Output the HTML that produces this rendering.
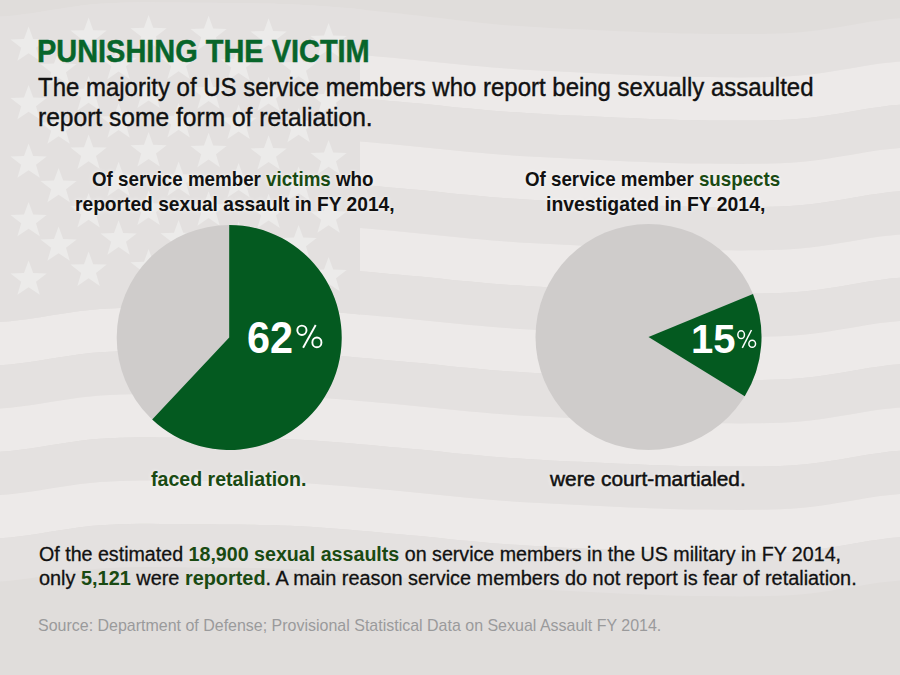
<!DOCTYPE html><html><head><meta charset="utf-8"><style>
html,body{margin:0;padding:0;width:900px;height:675px;overflow:hidden;}
body{position:relative;font-family:"Liberation Sans",sans-serif;}
.t{position:absolute;white-space:nowrap;line-height:1;transform-origin:0 0;}
.g{color:#194a12;font-weight:bold;-webkit-text-stroke-width:0;}
.sh{text-shadow:0 0 4px rgba(255,255,255,0.6), 0 0 8px rgba(255,255,255,0.4);}
</style></head><body>
<svg width="900" height="675" style="position:absolute;left:0;top:0"><rect width="900" height="675" fill="#e0dddb"/><path d="M-10.0,16.8 L0.0,16.8 L10.0,15.9 L20.0,14.8 L30.0,13.4 L40.0,11.9 L50.0,10.3 L60.0,8.7 L70.0,7.2 L80.0,5.8 L90.0,4.6 L100.0,3.8 L110.0,3.2 L120.0,2.7 L130.0,2.5 L140.0,2.3 L150.0,2.3 L160.0,2.4 L170.0,2.5 L180.0,2.6 L190.0,2.7 L200.0,2.8 L210.0,2.8 L220.0,2.9 L230.0,2.9 L240.0,3.0 L250.0,3.2 L260.0,3.4 L270.0,3.6 L280.0,3.9 L290.0,4.3 L300.0,4.8 L310.0,5.3 L320.0,5.9 L330.0,6.7 L340.0,7.4 L350.0,8.3 L360.0,9.3 L370.0,10.4 L380.0,11.5 L390.0,12.5 L400.0,13.6 L410.0,14.7 L420.0,15.8 L430.0,16.9 L440.0,18.1 L450.0,19.3 L460.0,20.5 L470.0,21.6 L480.0,22.7 L490.0,23.8 L500.0,24.8 L510.0,25.5 L520.0,26.1 L530.0,26.8 L540.0,27.3 L550.0,27.9 L560.0,28.4 L570.0,28.9 L580.0,29.3 L590.0,29.8 L600.0,30.2 L610.0,30.7 L620.0,31.2 L630.0,31.6 L640.0,32.0 L650.0,32.4 L660.0,32.8 L670.0,33.1 L680.0,33.4 L690.0,33.6 L700.0,33.8 L710.0,33.9 L720.0,34.0 L730.0,34.1 L740.0,34.1 L750.0,34.1 L760.0,34.0 L770.0,33.8 L780.0,33.4 L790.0,32.9 L800.0,32.2 L810.0,31.3 L820.0,30.0 L830.0,28.5 L840.0,26.9 L850.0,25.2 L860.0,23.4 L870.0,21.8 L880.0,20.4 L890.0,19.1 L900.0,18.2 L910.0,18.2 L910.0,61.5 L900.0,61.5 L890.0,62.4 L880.0,63.6 L870.0,65.1 L860.0,66.7 L850.0,68.4 L840.0,70.1 L830.0,71.8 L820.0,73.3 L810.0,74.5 L800.0,75.5 L790.0,76.2 L780.0,76.7 L770.0,77.0 L760.0,77.2 L750.0,77.3 L740.0,77.4 L730.0,77.3 L720.0,77.2 L710.0,77.1 L700.0,77.0 L690.0,76.9 L680.0,76.7 L670.0,76.4 L660.0,76.1 L650.0,75.7 L640.0,75.3 L630.0,74.9 L620.0,74.4 L610.0,74.0 L600.0,73.5 L590.0,73.0 L580.0,72.6 L570.0,72.1 L560.0,71.6 L550.0,71.1 L540.0,70.6 L530.0,70.0 L520.0,69.4 L510.0,68.7 L500.0,68.0 L490.0,67.2 L480.0,66.3 L470.0,65.4 L460.0,64.4 L450.0,63.4 L440.0,62.4 L430.0,61.4 L420.0,60.4 L410.0,59.4 L400.0,58.5 L390.0,57.6 L380.0,56.7 L370.0,55.8 L360.0,54.9 L350.0,54.0 L340.0,53.2 L330.0,52.4 L320.0,51.7 L310.0,51.1 L300.0,50.5 L290.0,50.0 L280.0,49.7 L270.0,49.4 L260.0,49.1 L250.0,48.9 L240.0,48.8 L230.0,48.7 L220.0,48.6 L210.0,48.6 L200.0,48.5 L190.0,48.4 L180.0,48.3 L170.0,48.2 L160.0,48.1 L150.0,48.1 L140.0,48.1 L130.0,48.2 L120.0,48.5 L110.0,48.9 L100.0,49.5 L90.0,50.4 L80.0,51.5 L70.0,52.9 L60.0,54.5 L50.0,56.1 L40.0,57.7 L30.0,59.2 L20.0,60.5 L10.0,61.7 L0.0,62.5 L-10.0,62.5Z" fill="#e4e1e0"/><path d="M-10.0,62.5 L0.0,62.5 L10.0,61.7 L20.0,60.5 L30.0,59.2 L40.0,57.7 L50.0,56.1 L60.0,54.5 L70.0,52.9 L80.0,51.5 L90.0,50.4 L100.0,49.5 L110.0,48.9 L120.0,48.5 L130.0,48.2 L140.0,48.1 L150.0,48.1 L160.0,48.1 L170.0,48.2 L180.0,48.3 L190.0,48.4 L200.0,48.5 L210.0,48.6 L220.0,48.6 L230.0,48.7 L240.0,48.8 L250.0,48.9 L260.0,49.1 L270.0,49.4 L280.0,49.7 L290.0,50.0 L300.0,50.5 L310.0,51.1 L320.0,51.7 L330.0,52.4 L340.0,53.2 L350.0,54.0 L360.0,54.9 L370.0,55.8 L380.0,56.7 L390.0,57.6 L400.0,58.5 L410.0,59.4 L420.0,60.4 L430.0,61.4 L440.0,62.4 L450.0,63.4 L460.0,64.4 L470.0,65.4 L480.0,66.3 L490.0,67.2 L500.0,68.0 L510.0,68.7 L520.0,69.4 L530.0,70.0 L540.0,70.6 L550.0,71.1 L560.0,71.6 L570.0,72.1 L580.0,72.6 L590.0,73.0 L600.0,73.5 L610.0,74.0 L620.0,74.4 L630.0,74.9 L640.0,75.3 L650.0,75.7 L660.0,76.1 L670.0,76.4 L680.0,76.7 L690.0,76.9 L700.0,77.0 L710.0,77.1 L720.0,77.2 L730.0,77.3 L740.0,77.4 L750.0,77.3 L760.0,77.2 L770.0,77.0 L780.0,76.7 L790.0,76.2 L800.0,75.5 L810.0,74.5 L820.0,73.3 L830.0,71.8 L840.0,70.1 L850.0,68.4 L860.0,66.7 L870.0,65.1 L880.0,63.6 L890.0,62.4 L900.0,61.5 L910.0,61.5 L910.0,104.8 L900.0,104.8 L890.0,105.6 L880.0,106.9 L870.0,108.3 L860.0,109.9 L850.0,111.7 L840.0,113.4 L830.0,115.0 L820.0,116.5 L810.0,117.8 L800.0,118.8 L790.0,119.4 L780.0,119.9 L770.0,120.3 L760.0,120.5 L750.0,120.6 L740.0,120.6 L730.0,120.6 L720.0,120.5 L710.0,120.4 L700.0,120.2 L690.0,120.1 L680.0,119.9 L670.0,119.6 L660.0,119.3 L650.0,118.9 L640.0,118.5 L630.0,118.1 L620.0,117.7 L610.0,117.2 L600.0,116.8 L590.0,116.3 L580.0,115.8 L570.0,115.4 L560.0,114.9 L550.0,114.4 L540.0,113.8 L530.0,113.3 L520.0,112.6 L510.0,112.0 L500.0,111.2 L490.0,110.5 L480.0,109.6 L470.0,108.6 L460.0,107.7 L450.0,106.7 L440.0,105.6 L430.0,104.6 L420.0,103.6 L410.0,102.7 L400.0,101.8 L390.0,100.9 L380.0,100.0 L370.0,99.1 L360.0,98.2 L350.0,97.3 L340.0,96.4 L330.0,95.7 L320.0,94.9 L310.0,94.3 L300.0,93.8 L290.0,93.3 L280.0,92.9 L270.0,92.6 L260.0,92.4 L250.0,92.2 L240.0,92.0 L230.0,91.9 L220.0,91.9 L210.0,91.8 L200.0,91.8 L190.0,91.7 L180.0,91.6 L170.0,91.5 L160.0,91.4 L150.0,91.3 L140.0,91.3 L130.0,91.5 L120.0,91.7 L110.0,92.2 L100.0,92.8 L90.0,93.6 L80.0,94.8 L70.0,96.2 L60.0,97.7 L50.0,99.3 L40.0,100.9 L30.0,102.4 L20.0,103.8 L10.0,104.9 L0.0,105.8 L-10.0,105.8Z" fill="#edeae9"/><path d="M-10.0,105.8 L0.0,105.8 L10.0,104.9 L20.0,103.8 L30.0,102.4 L40.0,100.9 L50.0,99.3 L60.0,97.7 L70.0,96.2 L80.0,94.8 L90.0,93.6 L100.0,92.8 L110.0,92.2 L120.0,91.7 L130.0,91.5 L140.0,91.3 L150.0,91.3 L160.0,91.4 L170.0,91.5 L180.0,91.6 L190.0,91.7 L200.0,91.8 L210.0,91.8 L220.0,91.9 L230.0,91.9 L240.0,92.0 L250.0,92.2 L260.0,92.4 L270.0,92.6 L280.0,92.9 L290.0,93.3 L300.0,93.8 L310.0,94.3 L320.0,94.9 L330.0,95.7 L340.0,96.4 L350.0,97.3 L360.0,98.2 L370.0,99.1 L380.0,100.0 L390.0,100.9 L400.0,101.8 L410.0,102.7 L420.0,103.6 L430.0,104.6 L440.0,105.6 L450.0,106.7 L460.0,107.7 L470.0,108.6 L480.0,109.6 L490.0,110.5 L500.0,111.2 L510.0,112.0 L520.0,112.6 L530.0,113.3 L540.0,113.8 L550.0,114.4 L560.0,114.9 L570.0,115.4 L580.0,115.8 L590.0,116.3 L600.0,116.8 L610.0,117.2 L620.0,117.7 L630.0,118.1 L640.0,118.5 L650.0,118.9 L660.0,119.3 L670.0,119.6 L680.0,119.9 L690.0,120.1 L700.0,120.2 L710.0,120.4 L720.0,120.5 L730.0,120.6 L740.0,120.6 L750.0,120.6 L760.0,120.5 L770.0,120.3 L780.0,119.9 L790.0,119.4 L800.0,118.8 L810.0,117.8 L820.0,116.5 L830.0,115.0 L840.0,113.4 L850.0,111.7 L860.0,109.9 L870.0,108.3 L880.0,106.9 L890.0,105.6 L900.0,104.8 L910.0,104.8 L910.0,148.0 L900.0,148.0 L890.0,148.9 L880.0,150.1 L870.0,151.6 L860.0,153.2 L850.0,154.9 L840.0,156.6 L830.0,158.3 L820.0,159.8 L810.0,161.0 L800.0,162.0 L790.0,162.7 L780.0,163.2 L770.0,163.5 L760.0,163.7 L750.0,163.8 L740.0,163.9 L730.0,163.8 L720.0,163.7 L710.0,163.6 L700.0,163.5 L690.0,163.4 L680.0,163.2 L670.0,162.9 L660.0,162.6 L650.0,162.2 L640.0,161.8 L630.0,161.4 L620.0,160.9 L610.0,160.5 L600.0,160.0 L590.0,159.5 L580.0,159.1 L570.0,158.6 L560.0,158.1 L550.0,157.6 L540.0,157.1 L530.0,156.5 L520.0,155.9 L510.0,155.2 L500.0,154.5 L490.0,153.7 L480.0,152.8 L470.0,151.9 L460.0,150.9 L450.0,149.9 L440.0,148.9 L430.0,147.9 L420.0,146.9 L410.0,145.9 L400.0,145.0 L390.0,144.1 L380.0,143.2 L370.0,142.3 L360.0,141.4 L350.0,140.5 L340.0,139.7 L330.0,138.9 L320.0,138.2 L310.0,137.6 L300.0,137.0 L290.0,136.5 L280.0,136.2 L270.0,135.9 L260.0,135.6 L250.0,135.4 L240.0,135.3 L230.0,135.2 L220.0,135.1 L210.0,135.1 L200.0,135.0 L190.0,134.9 L180.0,134.8 L170.0,134.7 L160.0,134.6 L150.0,134.6 L140.0,134.6 L130.0,134.7 L120.0,135.0 L110.0,135.4 L100.0,136.0 L90.0,136.9 L80.0,138.0 L70.0,139.4 L60.0,141.0 L50.0,142.6 L40.0,144.2 L30.0,145.7 L20.0,147.0 L10.0,148.2 L0.0,149.0 L-10.0,149.0Z" fill="#e4e1e0"/><path d="M-10.0,149.0 L0.0,149.0 L10.0,148.2 L20.0,147.0 L30.0,145.7 L40.0,144.2 L50.0,142.6 L60.0,141.0 L70.0,139.4 L80.0,138.0 L90.0,136.9 L100.0,136.0 L110.0,135.4 L120.0,135.0 L130.0,134.7 L140.0,134.6 L150.0,134.6 L160.0,134.6 L170.0,134.7 L180.0,134.8 L190.0,134.9 L200.0,135.0 L210.0,135.1 L220.0,135.1 L230.0,135.2 L240.0,135.3 L250.0,135.4 L260.0,135.6 L270.0,135.9 L280.0,136.2 L290.0,136.5 L300.0,137.0 L310.0,137.6 L320.0,138.2 L330.0,138.9 L340.0,139.7 L350.0,140.5 L360.0,141.4 L370.0,142.3 L380.0,143.2 L390.0,144.1 L400.0,145.0 L410.0,145.9 L420.0,146.9 L430.0,147.9 L440.0,148.9 L450.0,149.9 L460.0,150.9 L470.0,151.9 L480.0,152.8 L490.0,153.7 L500.0,154.5 L510.0,155.2 L520.0,155.9 L530.0,156.5 L540.0,157.1 L550.0,157.6 L560.0,158.1 L570.0,158.6 L580.0,159.1 L590.0,159.5 L600.0,160.0 L610.0,160.5 L620.0,160.9 L630.0,161.4 L640.0,161.8 L650.0,162.2 L660.0,162.6 L670.0,162.9 L680.0,163.2 L690.0,163.4 L700.0,163.5 L710.0,163.6 L720.0,163.7 L730.0,163.8 L740.0,163.9 L750.0,163.8 L760.0,163.7 L770.0,163.5 L780.0,163.2 L790.0,162.7 L800.0,162.0 L810.0,161.0 L820.0,159.8 L830.0,158.3 L840.0,156.6 L850.0,154.9 L860.0,153.2 L870.0,151.6 L880.0,150.1 L890.0,148.9 L900.0,148.0 L910.0,148.0 L910.0,191.2 L900.0,191.2 L890.0,192.1 L880.0,193.4 L870.0,194.8 L860.0,196.4 L850.0,198.2 L840.0,199.9 L830.0,201.5 L820.0,203.0 L810.0,204.3 L800.0,205.2 L790.0,205.9 L780.0,206.4 L770.0,206.8 L760.0,207.0 L750.0,207.1 L740.0,207.1 L730.0,207.1 L720.0,207.0 L710.0,206.9 L700.0,206.8 L690.0,206.6 L680.0,206.4 L670.0,206.1 L660.0,205.8 L650.0,205.4 L640.0,205.0 L630.0,204.6 L620.0,204.2 L610.0,203.7 L600.0,203.2 L590.0,202.8 L580.0,202.3 L570.0,201.9 L560.0,201.4 L550.0,200.9 L540.0,200.3 L530.0,199.8 L520.0,199.1 L510.0,198.5 L500.0,197.8 L490.0,197.0 L480.0,196.1 L470.0,195.1 L460.0,194.2 L450.0,193.2 L440.0,192.1 L430.0,191.1 L420.0,190.1 L410.0,189.2 L400.0,188.2 L390.0,187.4 L380.0,186.5 L370.0,185.6 L360.0,184.7 L350.0,183.8 L340.0,182.9 L330.0,182.2 L320.0,181.4 L310.0,180.8 L300.0,180.2 L290.0,179.8 L280.0,179.4 L270.0,179.1 L260.0,178.9 L250.0,178.7 L240.0,178.5 L230.0,178.4 L220.0,178.4 L210.0,178.3 L200.0,178.2 L190.0,178.2 L180.0,178.1 L170.0,178.0 L160.0,177.9 L150.0,177.8 L140.0,177.8 L130.0,178.0 L120.0,178.2 L110.0,178.7 L100.0,179.2 L90.0,180.1 L80.0,181.3 L70.0,182.7 L60.0,184.2 L50.0,185.8 L40.0,187.4 L30.0,188.9 L20.0,190.3 L10.0,191.4 L0.0,192.2 L-10.0,192.2Z" fill="#edeae9"/><path d="M-10.0,192.2 L0.0,192.2 L10.0,191.4 L20.0,190.3 L30.0,188.9 L40.0,187.4 L50.0,185.8 L60.0,184.2 L70.0,182.7 L80.0,181.3 L90.0,180.1 L100.0,179.2 L110.0,178.7 L120.0,178.2 L130.0,178.0 L140.0,177.8 L150.0,177.8 L160.0,177.9 L170.0,178.0 L180.0,178.1 L190.0,178.2 L200.0,178.2 L210.0,178.3 L220.0,178.4 L230.0,178.4 L240.0,178.5 L250.0,178.7 L260.0,178.9 L270.0,179.1 L280.0,179.4 L290.0,179.8 L300.0,180.2 L310.0,180.8 L320.0,181.4 L330.0,182.2 L340.0,182.9 L350.0,183.8 L360.0,184.7 L370.0,185.6 L380.0,186.5 L390.0,187.4 L400.0,188.2 L410.0,189.2 L420.0,190.1 L430.0,191.1 L440.0,192.1 L450.0,193.2 L460.0,194.2 L470.0,195.1 L480.0,196.1 L490.0,197.0 L500.0,197.8 L510.0,198.5 L520.0,199.1 L530.0,199.8 L540.0,200.3 L550.0,200.9 L560.0,201.4 L570.0,201.9 L580.0,202.3 L590.0,202.8 L600.0,203.2 L610.0,203.7 L620.0,204.2 L630.0,204.6 L640.0,205.0 L650.0,205.4 L660.0,205.8 L670.0,206.1 L680.0,206.4 L690.0,206.6 L700.0,206.8 L710.0,206.9 L720.0,207.0 L730.0,207.1 L740.0,207.1 L750.0,207.1 L760.0,207.0 L770.0,206.8 L780.0,206.4 L790.0,205.9 L800.0,205.2 L810.0,204.3 L820.0,203.0 L830.0,201.5 L840.0,199.9 L850.0,198.2 L860.0,196.4 L870.0,194.8 L880.0,193.4 L890.0,192.1 L900.0,191.2 L910.0,191.2 L910.0,234.5 L900.0,234.5 L890.0,235.4 L880.0,236.6 L870.0,238.1 L860.0,239.7 L850.0,241.4 L840.0,243.1 L830.0,244.8 L820.0,246.3 L810.0,247.5 L800.0,248.5 L790.0,249.2 L780.0,249.7 L770.0,250.0 L760.0,250.2 L750.0,250.3 L740.0,250.4 L730.0,250.3 L720.0,250.2 L710.0,250.1 L700.0,250.0 L690.0,249.9 L680.0,249.7 L670.0,249.4 L660.0,249.1 L650.0,248.7 L640.0,248.3 L630.0,247.9 L620.0,247.4 L610.0,247.0 L600.0,246.5 L590.0,246.0 L580.0,245.6 L570.0,245.1 L560.0,244.6 L550.0,244.1 L540.0,243.6 L530.0,243.0 L520.0,242.4 L510.0,241.7 L500.0,241.0 L490.0,240.2 L480.0,239.3 L470.0,238.4 L460.0,237.4 L450.0,236.4 L440.0,235.4 L430.0,234.4 L420.0,233.4 L410.0,232.4 L400.0,231.5 L390.0,230.6 L380.0,229.7 L370.0,228.8 L360.0,227.9 L350.0,227.0 L340.0,226.2 L330.0,225.4 L320.0,224.7 L310.0,224.1 L300.0,223.5 L290.0,223.0 L280.0,222.7 L270.0,222.4 L260.0,222.1 L250.0,221.9 L240.0,221.8 L230.0,221.7 L220.0,221.6 L210.0,221.6 L200.0,221.5 L190.0,221.4 L180.0,221.3 L170.0,221.2 L160.0,221.1 L150.0,221.1 L140.0,221.1 L130.0,221.2 L120.0,221.5 L110.0,221.9 L100.0,222.5 L90.0,223.4 L80.0,224.5 L70.0,225.9 L60.0,227.5 L50.0,229.1 L40.0,230.7 L30.0,232.2 L20.0,233.5 L10.0,234.7 L0.0,235.5 L-10.0,235.5Z" fill="#e4e1e0"/><path d="M-10.0,235.5 L0.0,235.5 L10.0,234.7 L20.0,233.5 L30.0,232.2 L40.0,230.7 L50.0,229.1 L60.0,227.5 L70.0,225.9 L80.0,224.5 L90.0,223.4 L100.0,222.5 L110.0,221.9 L120.0,221.5 L130.0,221.2 L140.0,221.1 L150.0,221.1 L160.0,221.1 L170.0,221.2 L180.0,221.3 L190.0,221.4 L200.0,221.5 L210.0,221.6 L220.0,221.6 L230.0,221.7 L240.0,221.8 L250.0,221.9 L260.0,222.1 L270.0,222.4 L280.0,222.7 L290.0,223.0 L300.0,223.5 L310.0,224.1 L320.0,224.7 L330.0,225.4 L340.0,226.2 L350.0,227.0 L360.0,227.9 L370.0,228.8 L380.0,229.7 L390.0,230.6 L400.0,231.5 L410.0,232.4 L420.0,233.4 L430.0,234.4 L440.0,235.4 L450.0,236.4 L460.0,237.4 L470.0,238.4 L480.0,239.3 L490.0,240.2 L500.0,241.0 L510.0,241.7 L520.0,242.4 L530.0,243.0 L540.0,243.6 L550.0,244.1 L560.0,244.6 L570.0,245.1 L580.0,245.6 L590.0,246.0 L600.0,246.5 L610.0,247.0 L620.0,247.4 L630.0,247.9 L640.0,248.3 L650.0,248.7 L660.0,249.1 L670.0,249.4 L680.0,249.7 L690.0,249.9 L700.0,250.0 L710.0,250.1 L720.0,250.2 L730.0,250.3 L740.0,250.4 L750.0,250.3 L760.0,250.2 L770.0,250.0 L780.0,249.7 L790.0,249.2 L800.0,248.5 L810.0,247.5 L820.0,246.3 L830.0,244.8 L840.0,243.1 L850.0,241.4 L860.0,239.7 L870.0,238.1 L880.0,236.6 L890.0,235.4 L900.0,234.5 L910.0,234.5 L910.0,277.8 L900.0,277.8 L890.0,278.6 L880.0,279.9 L870.0,281.3 L860.0,282.9 L850.0,284.7 L840.0,286.4 L830.0,288.0 L820.0,289.5 L810.0,290.8 L800.0,291.8 L790.0,292.4 L780.0,292.9 L770.0,293.3 L760.0,293.5 L750.0,293.6 L740.0,293.6 L730.0,293.6 L720.0,293.5 L710.0,293.4 L700.0,293.2 L690.0,293.1 L680.0,292.9 L670.0,292.6 L660.0,292.3 L650.0,291.9 L640.0,291.5 L630.0,291.1 L620.0,290.7 L610.0,290.2 L600.0,289.8 L590.0,289.3 L580.0,288.8 L570.0,288.4 L560.0,287.9 L550.0,287.4 L540.0,286.8 L530.0,286.3 L520.0,285.6 L510.0,285.0 L500.0,284.2 L490.0,283.5 L480.0,282.6 L470.0,281.6 L460.0,280.7 L450.0,279.7 L440.0,278.6 L430.0,277.6 L420.0,276.6 L410.0,275.7 L400.0,274.8 L390.0,273.9 L380.0,273.0 L370.0,272.1 L360.0,271.2 L350.0,270.3 L340.0,269.4 L330.0,268.7 L320.0,267.9 L310.0,267.3 L300.0,266.8 L290.0,266.3 L280.0,265.9 L270.0,265.6 L260.0,265.4 L250.0,265.2 L240.0,265.0 L230.0,264.9 L220.0,264.9 L210.0,264.8 L200.0,264.8 L190.0,264.7 L180.0,264.6 L170.0,264.5 L160.0,264.4 L150.0,264.3 L140.0,264.3 L130.0,264.5 L120.0,264.7 L110.0,265.2 L100.0,265.8 L90.0,266.6 L80.0,267.8 L70.0,269.2 L60.0,270.7 L50.0,272.3 L40.0,273.9 L30.0,275.4 L20.0,276.8 L10.0,277.9 L0.0,278.8 L-10.0,278.8Z" fill="#edeae9"/><path d="M-10.0,278.8 L0.0,278.8 L10.0,277.9 L20.0,276.8 L30.0,275.4 L40.0,273.9 L50.0,272.3 L60.0,270.7 L70.0,269.2 L80.0,267.8 L90.0,266.6 L100.0,265.8 L110.0,265.2 L120.0,264.7 L130.0,264.5 L140.0,264.3 L150.0,264.3 L160.0,264.4 L170.0,264.5 L180.0,264.6 L190.0,264.7 L200.0,264.8 L210.0,264.8 L220.0,264.9 L230.0,264.9 L240.0,265.0 L250.0,265.2 L260.0,265.4 L270.0,265.6 L280.0,265.9 L290.0,266.3 L300.0,266.8 L310.0,267.3 L320.0,267.9 L330.0,268.7 L340.0,269.4 L350.0,270.3 L360.0,271.2 L370.0,272.1 L380.0,273.0 L390.0,273.9 L400.0,274.8 L410.0,275.7 L420.0,276.6 L430.0,277.6 L440.0,278.6 L450.0,279.7 L460.0,280.7 L470.0,281.6 L480.0,282.6 L490.0,283.5 L500.0,284.2 L510.0,285.0 L520.0,285.6 L530.0,286.3 L540.0,286.8 L550.0,287.4 L560.0,287.9 L570.0,288.4 L580.0,288.8 L590.0,289.3 L600.0,289.8 L610.0,290.2 L620.0,290.7 L630.0,291.1 L640.0,291.5 L650.0,291.9 L660.0,292.3 L670.0,292.6 L680.0,292.9 L690.0,293.1 L700.0,293.2 L710.0,293.4 L720.0,293.5 L730.0,293.6 L740.0,293.6 L750.0,293.6 L760.0,293.5 L770.0,293.3 L780.0,292.9 L790.0,292.4 L800.0,291.8 L810.0,290.8 L820.0,289.5 L830.0,288.0 L840.0,286.4 L850.0,284.7 L860.0,282.9 L870.0,281.3 L880.0,279.9 L890.0,278.6 L900.0,277.8 L910.0,277.8 L910.0,321.0 L900.0,321.0 L890.0,321.9 L880.0,323.1 L870.0,324.6 L860.0,326.2 L850.0,327.9 L840.0,329.6 L830.0,331.3 L820.0,332.8 L810.0,334.0 L800.0,335.0 L790.0,335.7 L780.0,336.2 L770.0,336.5 L760.0,336.7 L750.0,336.8 L740.0,336.9 L730.0,336.8 L720.0,336.7 L710.0,336.6 L700.0,336.5 L690.0,336.4 L680.0,336.2 L670.0,335.9 L660.0,335.6 L650.0,335.2 L640.0,334.8 L630.0,334.4 L620.0,333.9 L610.0,333.5 L600.0,333.0 L590.0,332.5 L580.0,332.1 L570.0,331.6 L560.0,331.1 L550.0,330.6 L540.0,330.1 L530.0,329.5 L520.0,328.9 L510.0,328.2 L500.0,327.5 L490.0,326.7 L480.0,325.8 L470.0,324.9 L460.0,323.9 L450.0,322.9 L440.0,321.9 L430.0,320.9 L420.0,319.9 L410.0,318.9 L400.0,318.0 L390.0,317.1 L380.0,316.2 L370.0,315.3 L360.0,314.4 L350.0,313.5 L340.0,312.7 L330.0,311.9 L320.0,311.2 L310.0,310.6 L300.0,310.0 L290.0,309.5 L280.0,309.2 L270.0,308.9 L260.0,308.6 L250.0,308.4 L240.0,308.3 L230.0,308.2 L220.0,308.1 L210.0,308.1 L200.0,308.0 L190.0,307.9 L180.0,307.8 L170.0,307.7 L160.0,307.6 L150.0,307.6 L140.0,307.6 L130.0,307.7 L120.0,308.0 L110.0,308.4 L100.0,309.0 L90.0,309.9 L80.0,311.0 L70.0,312.4 L60.0,314.0 L50.0,315.6 L40.0,317.2 L30.0,318.7 L20.0,320.0 L10.0,321.2 L0.0,322.0 L-10.0,322.0Z" fill="#e4e1e0"/><path d="M-10.0,322.0 L0.0,322.0 L10.0,321.2 L20.0,320.0 L30.0,318.7 L40.0,317.2 L50.0,315.6 L60.0,314.0 L70.0,312.4 L80.0,311.0 L90.0,309.9 L100.0,309.0 L110.0,308.4 L120.0,308.0 L130.0,307.7 L140.0,307.6 L150.0,307.6 L160.0,307.6 L170.0,307.7 L180.0,307.8 L190.0,307.9 L200.0,308.0 L210.0,308.1 L220.0,308.1 L230.0,308.2 L240.0,308.3 L250.0,308.4 L260.0,308.6 L270.0,308.9 L280.0,309.2 L290.0,309.5 L300.0,310.0 L310.0,310.6 L320.0,311.2 L330.0,311.9 L340.0,312.7 L350.0,313.5 L360.0,314.4 L370.0,315.3 L380.0,316.2 L390.0,317.1 L400.0,318.0 L410.0,318.9 L420.0,319.9 L430.0,320.9 L440.0,321.9 L450.0,322.9 L460.0,323.9 L470.0,324.9 L480.0,325.8 L490.0,326.7 L500.0,327.5 L510.0,328.2 L520.0,328.9 L530.0,329.5 L540.0,330.1 L550.0,330.6 L560.0,331.1 L570.0,331.6 L580.0,332.1 L590.0,332.5 L600.0,333.0 L610.0,333.5 L620.0,333.9 L630.0,334.4 L640.0,334.8 L650.0,335.2 L660.0,335.6 L670.0,335.9 L680.0,336.2 L690.0,336.4 L700.0,336.5 L710.0,336.6 L720.0,336.7 L730.0,336.8 L740.0,336.9 L750.0,336.8 L760.0,336.7 L770.0,336.5 L780.0,336.2 L790.0,335.7 L800.0,335.0 L810.0,334.0 L820.0,332.8 L830.0,331.3 L840.0,329.6 L850.0,327.9 L860.0,326.2 L870.0,324.6 L880.0,323.1 L890.0,321.9 L900.0,321.0 L910.0,321.0 L910.0,364.2 L900.0,364.2 L890.0,365.1 L880.0,366.4 L870.0,367.8 L860.0,369.4 L850.0,371.2 L840.0,372.9 L830.0,374.5 L820.0,376.0 L810.0,377.3 L800.0,378.2 L790.0,378.9 L780.0,379.4 L770.0,379.8 L760.0,380.0 L750.0,380.1 L740.0,380.1 L730.0,380.1 L720.0,380.0 L710.0,379.9 L700.0,379.8 L690.0,379.6 L680.0,379.4 L670.0,379.1 L660.0,378.8 L650.0,378.4 L640.0,378.0 L630.0,377.6 L620.0,377.2 L610.0,376.7 L600.0,376.2 L590.0,375.8 L580.0,375.3 L570.0,374.9 L560.0,374.4 L550.0,373.9 L540.0,373.3 L530.0,372.8 L520.0,372.1 L510.0,371.5 L500.0,370.8 L490.0,370.0 L480.0,369.1 L470.0,368.1 L460.0,367.2 L450.0,366.2 L440.0,365.1 L430.0,364.1 L420.0,363.1 L410.0,362.2 L400.0,361.2 L390.0,360.4 L380.0,359.5 L370.0,358.6 L360.0,357.7 L350.0,356.8 L340.0,355.9 L330.0,355.2 L320.0,354.4 L310.0,353.8 L300.0,353.2 L290.0,352.8 L280.0,352.4 L270.0,352.1 L260.0,351.9 L250.0,351.7 L240.0,351.5 L230.0,351.4 L220.0,351.4 L210.0,351.3 L200.0,351.2 L190.0,351.2 L180.0,351.1 L170.0,351.0 L160.0,350.9 L150.0,350.8 L140.0,350.8 L130.0,351.0 L120.0,351.2 L110.0,351.7 L100.0,352.2 L90.0,353.1 L80.0,354.3 L70.0,355.7 L60.0,357.2 L50.0,358.8 L40.0,360.4 L30.0,361.9 L20.0,363.3 L10.0,364.4 L0.0,365.2 L-10.0,365.2Z" fill="#edeae9"/><path d="M-10.0,365.2 L0.0,365.2 L10.0,364.4 L20.0,363.3 L30.0,361.9 L40.0,360.4 L50.0,358.8 L60.0,357.2 L70.0,355.7 L80.0,354.3 L90.0,353.1 L100.0,352.2 L110.0,351.7 L120.0,351.2 L130.0,351.0 L140.0,350.8 L150.0,350.8 L160.0,350.9 L170.0,351.0 L180.0,351.1 L190.0,351.2 L200.0,351.2 L210.0,351.3 L220.0,351.4 L230.0,351.4 L240.0,351.5 L250.0,351.7 L260.0,351.9 L270.0,352.1 L280.0,352.4 L290.0,352.8 L300.0,353.2 L310.0,353.8 L320.0,354.4 L330.0,355.2 L340.0,355.9 L350.0,356.8 L360.0,357.7 L370.0,358.6 L380.0,359.5 L390.0,360.4 L400.0,361.2 L410.0,362.2 L420.0,363.1 L430.0,364.1 L440.0,365.1 L450.0,366.2 L460.0,367.2 L470.0,368.1 L480.0,369.1 L490.0,370.0 L500.0,370.8 L510.0,371.5 L520.0,372.1 L530.0,372.8 L540.0,373.3 L550.0,373.9 L560.0,374.4 L570.0,374.9 L580.0,375.3 L590.0,375.8 L600.0,376.2 L610.0,376.7 L620.0,377.2 L630.0,377.6 L640.0,378.0 L650.0,378.4 L660.0,378.8 L670.0,379.1 L680.0,379.4 L690.0,379.6 L700.0,379.8 L710.0,379.9 L720.0,380.0 L730.0,380.1 L740.0,380.1 L750.0,380.1 L760.0,380.0 L770.0,379.8 L780.0,379.4 L790.0,378.9 L800.0,378.2 L810.0,377.3 L820.0,376.0 L830.0,374.5 L840.0,372.9 L850.0,371.2 L860.0,369.4 L870.0,367.8 L880.0,366.4 L890.0,365.1 L900.0,364.2 L910.0,364.2 L910.0,407.5 L900.0,407.5 L890.0,408.4 L880.0,409.6 L870.0,411.1 L860.0,412.7 L850.0,414.4 L840.0,416.1 L830.0,417.8 L820.0,419.3 L810.0,420.5 L800.0,421.5 L790.0,422.2 L780.0,422.7 L770.0,423.0 L760.0,423.2 L750.0,423.3 L740.0,423.4 L730.0,423.3 L720.0,423.2 L710.0,423.1 L700.0,423.0 L690.0,422.9 L680.0,422.7 L670.0,422.4 L660.0,422.1 L650.0,421.7 L640.0,421.3 L630.0,420.9 L620.0,420.4 L610.0,420.0 L600.0,419.5 L590.0,419.0 L580.0,418.6 L570.0,418.1 L560.0,417.6 L550.0,417.1 L540.0,416.6 L530.0,416.0 L520.0,415.4 L510.0,414.7 L500.0,414.0 L490.0,413.2 L480.0,412.3 L470.0,411.4 L460.0,410.4 L450.0,409.4 L440.0,408.4 L430.0,407.4 L420.0,406.4 L410.0,405.4 L400.0,404.5 L390.0,403.6 L380.0,402.7 L370.0,401.8 L360.0,400.9 L350.0,400.0 L340.0,399.2 L330.0,398.4 L320.0,397.7 L310.0,397.1 L300.0,396.5 L290.0,396.0 L280.0,395.7 L270.0,395.4 L260.0,395.1 L250.0,394.9 L240.0,394.8 L230.0,394.7 L220.0,394.6 L210.0,394.6 L200.0,394.5 L190.0,394.4 L180.0,394.3 L170.0,394.2 L160.0,394.1 L150.0,394.1 L140.0,394.1 L130.0,394.2 L120.0,394.5 L110.0,394.9 L100.0,395.5 L90.0,396.4 L80.0,397.5 L70.0,398.9 L60.0,400.5 L50.0,402.1 L40.0,403.7 L30.0,405.2 L20.0,406.5 L10.0,407.7 L0.0,408.5 L-10.0,408.5Z" fill="#e4e1e0"/><path d="M-10.0,408.5 L0.0,408.5 L10.0,407.7 L20.0,406.5 L30.0,405.2 L40.0,403.7 L50.0,402.1 L60.0,400.5 L70.0,398.9 L80.0,397.5 L90.0,396.4 L100.0,395.5 L110.0,394.9 L120.0,394.5 L130.0,394.2 L140.0,394.1 L150.0,394.1 L160.0,394.1 L170.0,394.2 L180.0,394.3 L190.0,394.4 L200.0,394.5 L210.0,394.6 L220.0,394.6 L230.0,394.7 L240.0,394.8 L250.0,394.9 L260.0,395.1 L270.0,395.4 L280.0,395.7 L290.0,396.0 L300.0,396.5 L310.0,397.1 L320.0,397.7 L330.0,398.4 L340.0,399.2 L350.0,400.0 L360.0,400.9 L370.0,401.8 L380.0,402.7 L390.0,403.6 L400.0,404.5 L410.0,405.4 L420.0,406.4 L430.0,407.4 L440.0,408.4 L450.0,409.4 L460.0,410.4 L470.0,411.4 L480.0,412.3 L490.0,413.2 L500.0,414.0 L510.0,414.7 L520.0,415.4 L530.0,416.0 L540.0,416.6 L550.0,417.1 L560.0,417.6 L570.0,418.1 L580.0,418.6 L590.0,419.0 L600.0,419.5 L610.0,420.0 L620.0,420.4 L630.0,420.9 L640.0,421.3 L650.0,421.7 L660.0,422.1 L670.0,422.4 L680.0,422.7 L690.0,422.9 L700.0,423.0 L710.0,423.1 L720.0,423.2 L730.0,423.3 L740.0,423.4 L750.0,423.3 L760.0,423.2 L770.0,423.0 L780.0,422.7 L790.0,422.2 L800.0,421.5 L810.0,420.5 L820.0,419.3 L830.0,417.8 L840.0,416.1 L850.0,414.4 L860.0,412.7 L870.0,411.1 L880.0,409.6 L890.0,408.4 L900.0,407.5 L910.0,407.5 L910.0,450.8 L900.0,450.8 L890.0,451.6 L880.0,452.9 L870.0,454.3 L860.0,455.9 L850.0,457.7 L840.0,459.4 L830.0,461.0 L820.0,462.5 L810.0,463.8 L800.0,464.8 L790.0,465.4 L780.0,465.9 L770.0,466.3 L760.0,466.5 L750.0,466.6 L740.0,466.6 L730.0,466.6 L720.0,466.5 L710.0,466.4 L700.0,466.2 L690.0,466.1 L680.0,465.9 L670.0,465.6 L660.0,465.3 L650.0,464.9 L640.0,464.5 L630.0,464.1 L620.0,463.7 L610.0,463.2 L600.0,462.8 L590.0,462.3 L580.0,461.8 L570.0,461.4 L560.0,460.9 L550.0,460.4 L540.0,459.8 L530.0,459.3 L520.0,458.6 L510.0,458.0 L500.0,457.2 L490.0,456.5 L480.0,455.6 L470.0,454.6 L460.0,453.7 L450.0,452.7 L440.0,451.6 L430.0,450.6 L420.0,449.6 L410.0,448.7 L400.0,447.8 L390.0,446.9 L380.0,446.0 L370.0,445.1 L360.0,444.2 L350.0,443.3 L340.0,442.4 L330.0,441.7 L320.0,440.9 L310.0,440.3 L300.0,439.8 L290.0,439.3 L280.0,438.9 L270.0,438.6 L260.0,438.4 L250.0,438.2 L240.0,438.0 L230.0,437.9 L220.0,437.9 L210.0,437.8 L200.0,437.8 L190.0,437.7 L180.0,437.6 L170.0,437.5 L160.0,437.4 L150.0,437.3 L140.0,437.3 L130.0,437.5 L120.0,437.7 L110.0,438.2 L100.0,438.8 L90.0,439.6 L80.0,440.8 L70.0,442.2 L60.0,443.7 L50.0,445.3 L40.0,446.9 L30.0,448.4 L20.0,449.8 L10.0,450.9 L0.0,451.8 L-10.0,451.8Z" fill="#edeae9"/><path d="M-10.0,451.8 L0.0,451.8 L10.0,450.9 L20.0,449.8 L30.0,448.4 L40.0,446.9 L50.0,445.3 L60.0,443.7 L70.0,442.2 L80.0,440.8 L90.0,439.6 L100.0,438.8 L110.0,438.2 L120.0,437.7 L130.0,437.5 L140.0,437.3 L150.0,437.3 L160.0,437.4 L170.0,437.5 L180.0,437.6 L190.0,437.7 L200.0,437.8 L210.0,437.8 L220.0,437.9 L230.0,437.9 L240.0,438.0 L250.0,438.2 L260.0,438.4 L270.0,438.6 L280.0,438.9 L290.0,439.3 L300.0,439.8 L310.0,440.3 L320.0,440.9 L330.0,441.7 L340.0,442.4 L350.0,443.3 L360.0,444.2 L370.0,445.1 L380.0,446.0 L390.0,446.9 L400.0,447.8 L410.0,448.7 L420.0,449.6 L430.0,450.6 L440.0,451.6 L450.0,452.7 L460.0,453.7 L470.0,454.6 L480.0,455.6 L490.0,456.5 L500.0,457.2 L510.0,458.0 L520.0,458.6 L530.0,459.3 L540.0,459.8 L550.0,460.4 L560.0,460.9 L570.0,461.4 L580.0,461.8 L590.0,462.3 L600.0,462.8 L610.0,463.2 L620.0,463.7 L630.0,464.1 L640.0,464.5 L650.0,464.9 L660.0,465.3 L670.0,465.6 L680.0,465.9 L690.0,466.1 L700.0,466.2 L710.0,466.4 L720.0,466.5 L730.0,466.6 L740.0,466.6 L750.0,466.6 L760.0,466.5 L770.0,466.3 L780.0,465.9 L790.0,465.4 L800.0,464.8 L810.0,463.8 L820.0,462.5 L830.0,461.0 L840.0,459.4 L850.0,457.7 L860.0,455.9 L870.0,454.3 L880.0,452.9 L890.0,451.6 L900.0,450.8 L910.0,450.8 L910.0,494.0 L900.0,494.0 L890.0,494.9 L880.0,496.1 L870.0,497.6 L860.0,499.2 L850.0,500.9 L840.0,502.6 L830.0,504.3 L820.0,505.8 L810.0,507.0 L800.0,508.0 L790.0,508.7 L780.0,509.2 L770.0,509.5 L760.0,509.7 L750.0,509.8 L740.0,509.9 L730.0,509.8 L720.0,509.7 L710.0,509.6 L700.0,509.5 L690.0,509.4 L680.0,509.2 L670.0,508.9 L660.0,508.6 L650.0,508.2 L640.0,507.8 L630.0,507.4 L620.0,506.9 L610.0,506.5 L600.0,506.0 L590.0,505.5 L580.0,505.1 L570.0,504.6 L560.0,504.1 L550.0,503.6 L540.0,503.1 L530.0,502.5 L520.0,501.9 L510.0,501.2 L500.0,500.5 L490.0,499.7 L480.0,498.8 L470.0,497.9 L460.0,496.9 L450.0,495.9 L440.0,494.9 L430.0,493.9 L420.0,492.9 L410.0,491.9 L400.0,491.0 L390.0,490.1 L380.0,489.2 L370.0,488.3 L360.0,487.4 L350.0,486.5 L340.0,485.7 L330.0,484.9 L320.0,484.2 L310.0,483.6 L300.0,483.0 L290.0,482.5 L280.0,482.2 L270.0,481.9 L260.0,481.6 L250.0,481.4 L240.0,481.3 L230.0,481.2 L220.0,481.1 L210.0,481.1 L200.0,481.0 L190.0,480.9 L180.0,480.8 L170.0,480.7 L160.0,480.6 L150.0,480.6 L140.0,480.6 L130.0,480.7 L120.0,481.0 L110.0,481.4 L100.0,482.0 L90.0,482.9 L80.0,484.0 L70.0,485.4 L60.0,487.0 L50.0,488.6 L40.0,490.2 L30.0,491.7 L20.0,493.0 L10.0,494.2 L0.0,495.0 L-10.0,495.0Z" fill="#e4e1e0"/><path d="M-10.0,495.0 L0.0,495.0 L10.0,494.2 L20.0,493.0 L30.0,491.7 L40.0,490.2 L50.0,488.6 L60.0,487.0 L70.0,485.4 L80.0,484.0 L90.0,482.9 L100.0,482.0 L110.0,481.4 L120.0,481.0 L130.0,480.7 L140.0,480.6 L150.0,480.6 L160.0,480.6 L170.0,480.7 L180.0,480.8 L190.0,480.9 L200.0,481.0 L210.0,481.1 L220.0,481.1 L230.0,481.2 L240.0,481.3 L250.0,481.4 L260.0,481.6 L270.0,481.9 L280.0,482.2 L290.0,482.5 L300.0,483.0 L310.0,483.6 L320.0,484.2 L330.0,484.9 L340.0,485.7 L350.0,486.5 L360.0,487.4 L370.0,488.3 L380.0,489.2 L390.0,490.1 L400.0,491.0 L410.0,491.9 L420.0,492.9 L430.0,493.9 L440.0,494.9 L450.0,495.9 L460.0,496.9 L470.0,497.9 L480.0,498.8 L490.0,499.7 L500.0,500.5 L510.0,501.2 L520.0,501.9 L530.0,502.5 L540.0,503.1 L550.0,503.6 L560.0,504.1 L570.0,504.6 L580.0,505.1 L590.0,505.5 L600.0,506.0 L610.0,506.5 L620.0,506.9 L630.0,507.4 L640.0,507.8 L650.0,508.2 L660.0,508.6 L670.0,508.9 L680.0,509.2 L690.0,509.4 L700.0,509.5 L710.0,509.6 L720.0,509.7 L730.0,509.8 L740.0,509.9 L750.0,509.8 L760.0,509.7 L770.0,509.5 L780.0,509.2 L790.0,508.7 L800.0,508.0 L810.0,507.0 L820.0,505.8 L830.0,504.3 L840.0,502.6 L850.0,500.9 L860.0,499.2 L870.0,497.6 L880.0,496.1 L890.0,494.9 L900.0,494.0 L910.0,494.0 L910.0,537.2 L900.0,537.2 L890.0,538.1 L880.0,539.4 L870.0,540.8 L860.0,542.4 L850.0,544.2 L840.0,545.9 L830.0,547.5 L820.0,549.0 L810.0,550.3 L800.0,551.2 L790.0,551.9 L780.0,552.4 L770.0,552.8 L760.0,553.0 L750.0,553.1 L740.0,553.1 L730.0,553.1 L720.0,553.0 L710.0,552.9 L700.0,552.8 L690.0,552.6 L680.0,552.4 L670.0,552.1 L660.0,551.8 L650.0,551.4 L640.0,551.0 L630.0,550.6 L620.0,550.2 L610.0,549.7 L600.0,549.2 L590.0,548.8 L580.0,548.3 L570.0,547.9 L560.0,547.4 L550.0,546.9 L540.0,546.3 L530.0,545.8 L520.0,545.1 L510.0,544.5 L500.0,543.8 L490.0,543.0 L480.0,542.1 L470.0,541.1 L460.0,540.2 L450.0,539.2 L440.0,538.1 L430.0,537.1 L420.0,536.1 L410.0,535.2 L400.0,534.2 L390.0,533.4 L380.0,532.5 L370.0,531.6 L360.0,530.7 L350.0,529.8 L340.0,528.9 L330.0,528.2 L320.0,527.4 L310.0,526.8 L300.0,526.2 L290.0,525.8 L280.0,525.4 L270.0,525.1 L260.0,524.9 L250.0,524.7 L240.0,524.5 L230.0,524.4 L220.0,524.4 L210.0,524.3 L200.0,524.2 L190.0,524.2 L180.0,524.1 L170.0,524.0 L160.0,523.9 L150.0,523.8 L140.0,523.8 L130.0,524.0 L120.0,524.2 L110.0,524.7 L100.0,525.2 L90.0,526.1 L80.0,527.3 L70.0,528.7 L60.0,530.2 L50.0,531.8 L40.0,533.4 L30.0,534.9 L20.0,536.3 L10.0,537.4 L0.0,538.2 L-10.0,538.2Z" fill="#edeae9"/><path d="M-10.0,538.2 L0.0,538.2 L10.0,537.4 L20.0,536.3 L30.0,534.9 L40.0,533.4 L50.0,531.8 L60.0,530.2 L70.0,528.7 L80.0,527.3 L90.0,526.1 L100.0,525.2 L110.0,524.7 L120.0,524.2 L130.0,524.0 L140.0,523.8 L150.0,523.8 L160.0,523.9 L170.0,524.0 L180.0,524.1 L190.0,524.2 L200.0,524.2 L210.0,524.3 L220.0,524.4 L230.0,524.4 L240.0,524.5 L250.0,524.7 L260.0,524.9 L270.0,525.1 L280.0,525.4 L290.0,525.8 L300.0,526.2 L310.0,526.8 L320.0,527.4 L330.0,528.2 L340.0,528.9 L350.0,529.8 L360.0,530.7 L370.0,531.6 L380.0,532.5 L390.0,533.4 L400.0,534.2 L410.0,535.2 L420.0,536.1 L430.0,537.1 L440.0,538.1 L450.0,539.2 L460.0,540.2 L470.0,541.1 L480.0,542.1 L490.0,543.0 L500.0,543.8 L510.0,544.5 L520.0,545.1 L530.0,545.8 L540.0,546.3 L550.0,546.9 L560.0,547.4 L570.0,547.9 L580.0,548.3 L590.0,548.8 L600.0,549.2 L610.0,549.7 L620.0,550.2 L630.0,550.6 L640.0,551.0 L650.0,551.4 L660.0,551.8 L670.0,552.1 L680.0,552.4 L690.0,552.6 L700.0,552.8 L710.0,552.9 L720.0,553.0 L730.0,553.1 L740.0,553.1 L750.0,553.1 L760.0,553.0 L770.0,552.8 L780.0,552.4 L790.0,551.9 L800.0,551.2 L810.0,550.3 L820.0,549.0 L830.0,547.5 L840.0,545.9 L850.0,544.2 L860.0,542.4 L870.0,540.8 L880.0,539.4 L890.0,538.1 L900.0,537.2 L910.0,537.2 L910.0,580.5 L900.0,580.5 L890.0,581.4 L880.0,582.6 L870.0,584.1 L860.0,585.7 L850.0,587.4 L840.0,589.1 L830.0,590.8 L820.0,592.3 L810.0,593.5 L800.0,594.5 L790.0,595.2 L780.0,595.7 L770.0,596.0 L760.0,596.2 L750.0,596.3 L740.0,596.4 L730.0,596.3 L720.0,596.2 L710.0,596.1 L700.0,596.0 L690.0,595.9 L680.0,595.7 L670.0,595.4 L660.0,595.1 L650.0,594.7 L640.0,594.3 L630.0,593.9 L620.0,593.4 L610.0,593.0 L600.0,592.5 L590.0,592.0 L580.0,591.6 L570.0,591.1 L560.0,590.6 L550.0,590.1 L540.0,589.6 L530.0,589.0 L520.0,588.4 L510.0,587.7 L500.0,587.0 L490.0,586.2 L480.0,585.3 L470.0,584.4 L460.0,583.4 L450.0,582.4 L440.0,581.4 L430.0,580.4 L420.0,579.4 L410.0,578.4 L400.0,577.5 L390.0,576.6 L380.0,575.7 L370.0,574.8 L360.0,573.9 L350.0,573.0 L340.0,572.2 L330.0,571.4 L320.0,570.7 L310.0,570.1 L300.0,569.5 L290.0,569.0 L280.0,568.7 L270.0,568.4 L260.0,568.1 L250.0,567.9 L240.0,567.8 L230.0,567.7 L220.0,567.6 L210.0,567.6 L200.0,567.5 L190.0,567.4 L180.0,567.3 L170.0,567.2 L160.0,567.1 L150.0,567.1 L140.0,567.1 L130.0,567.2 L120.0,567.5 L110.0,567.9 L100.0,568.5 L90.0,569.4 L80.0,570.5 L70.0,571.9 L60.0,573.5 L50.0,575.1 L40.0,576.7 L30.0,578.2 L20.0,579.5 L10.0,580.7 L0.0,581.5 L-10.0,581.5Z" fill="#e4e1e0"/><path d="M-10.0,16.8 L-5.0,16.8 L0.0,16.8 L5.0,16.4 L10.0,15.9 L15.0,15.4 L20.0,14.8 L25.0,14.1 L30.0,13.4 L35.0,12.7 L40.0,11.9 L45.0,11.1 L50.0,10.3 L55.0,9.5 L60.0,8.7 L65.0,7.9 L70.0,7.2 L75.0,6.5 L80.0,5.8 L85.0,5.2 L90.0,4.6 L95.0,4.1 L100.0,3.8 L105.0,3.4 L110.0,3.2 L115.0,2.9 L120.0,2.7 L125.0,2.6 L130.0,2.5 L135.0,2.4 L140.0,2.3 L145.0,2.3 L150.0,2.3 L155.0,2.3 L160.0,2.4 L165.0,2.4 L170.0,2.5 L175.0,2.5 L180.0,2.6 L185.0,2.6 L190.0,2.7 L195.0,2.7 L200.0,2.8 L205.0,2.8 L210.0,2.8 L215.0,2.8 L220.0,2.9 L225.0,2.9 L230.0,2.9 L235.0,3.0 L240.0,3.0 L245.0,3.1 L250.0,3.2 L255.0,3.3 L260.0,3.4 L265.0,3.5 L270.0,3.6 L275.0,3.8 L280.0,3.9 L285.0,4.1 L290.0,4.3 L295.0,4.5 L300.0,4.8 L305.0,5.0 L310.0,5.3 L315.0,5.6 L320.0,5.9 L325.0,6.3 L330.0,6.7 L335.0,7.0 L340.0,7.4 L345.0,7.9 L350.0,8.3 L355.0,8.8 L360.0,9.3 L360.0,314.4 L355.0,314.0 L350.0,313.5 L345.0,313.1 L340.0,312.7 L335.0,312.3 L330.0,311.9 L325.0,311.5 L320.0,311.2 L315.0,310.9 L310.0,310.6 L305.0,310.3 L300.0,310.0 L295.0,309.8 L290.0,309.5 L285.0,309.3 L280.0,309.2 L275.0,309.0 L270.0,308.9 L265.0,308.7 L260.0,308.6 L255.0,308.5 L250.0,308.4 L245.0,308.4 L240.0,308.3 L235.0,308.2 L230.0,308.2 L225.0,308.1 L220.0,308.1 L215.0,308.1 L210.0,308.1 L205.0,308.0 L200.0,308.0 L195.0,308.0 L190.0,307.9 L185.0,307.9 L180.0,307.8 L175.0,307.8 L170.0,307.7 L165.0,307.7 L160.0,307.6 L155.0,307.6 L150.0,307.6 L145.0,307.6 L140.0,307.6 L135.0,307.6 L130.0,307.7 L125.0,307.8 L120.0,308.0 L115.0,308.2 L110.0,308.4 L105.0,308.7 L100.0,309.0 L95.0,309.4 L90.0,309.9 L85.0,310.4 L80.0,311.0 L75.0,311.7 L70.0,312.4 L65.0,313.2 L60.0,314.0 L55.0,314.8 L50.0,315.6 L45.0,316.4 L40.0,317.2 L35.0,317.9 L30.0,318.7 L25.0,319.4 L20.0,320.0 L15.0,320.6 L10.0,321.2 L5.0,321.6 L0.0,322.0 L-5.0,322.0 L-10.0,322.0Z" fill="#e3e0df"/><clipPath id="cc"><path d="M-10.0,16.8 L-5.0,16.8 L0.0,16.8 L5.0,16.4 L10.0,15.9 L15.0,15.4 L20.0,14.8 L25.0,14.1 L30.0,13.4 L35.0,12.7 L40.0,11.9 L45.0,11.1 L50.0,10.3 L55.0,9.5 L60.0,8.7 L65.0,7.9 L70.0,7.2 L75.0,6.5 L80.0,5.8 L85.0,5.2 L90.0,4.6 L95.0,4.1 L100.0,3.8 L105.0,3.4 L110.0,3.2 L115.0,2.9 L120.0,2.7 L125.0,2.6 L130.0,2.5 L135.0,2.4 L140.0,2.3 L145.0,2.3 L150.0,2.3 L155.0,2.3 L160.0,2.4 L165.0,2.4 L170.0,2.5 L175.0,2.5 L180.0,2.6 L185.0,2.6 L190.0,2.7 L195.0,2.7 L200.0,2.8 L205.0,2.8 L210.0,2.8 L215.0,2.8 L220.0,2.9 L225.0,2.9 L230.0,2.9 L235.0,3.0 L240.0,3.0 L245.0,3.1 L250.0,3.2 L255.0,3.3 L260.0,3.4 L265.0,3.5 L270.0,3.6 L275.0,3.8 L280.0,3.9 L285.0,4.1 L290.0,4.3 L295.0,4.5 L300.0,4.8 L305.0,5.0 L310.0,5.3 L315.0,5.6 L320.0,5.9 L325.0,6.3 L330.0,6.7 L335.0,7.0 L340.0,7.4 L345.0,7.9 L350.0,8.3 L355.0,8.8 L360.0,9.3 L360.0,314.4 L355.0,314.0 L350.0,313.5 L345.0,313.1 L340.0,312.7 L335.0,312.3 L330.0,311.9 L325.0,311.5 L320.0,311.2 L315.0,310.9 L310.0,310.6 L305.0,310.3 L300.0,310.0 L295.0,309.8 L290.0,309.5 L285.0,309.3 L280.0,309.2 L275.0,309.0 L270.0,308.9 L265.0,308.7 L260.0,308.6 L255.0,308.5 L250.0,308.4 L245.0,308.4 L240.0,308.3 L235.0,308.2 L230.0,308.2 L225.0,308.1 L220.0,308.1 L215.0,308.1 L210.0,308.1 L205.0,308.0 L200.0,308.0 L195.0,308.0 L190.0,307.9 L185.0,307.9 L180.0,307.8 L175.0,307.8 L170.0,307.7 L165.0,307.7 L160.0,307.6 L155.0,307.6 L150.0,307.6 L145.0,307.6 L140.0,307.6 L135.0,307.6 L130.0,307.7 L125.0,307.8 L120.0,308.0 L115.0,308.2 L110.0,308.4 L105.0,308.7 L100.0,309.0 L95.0,309.4 L90.0,309.9 L85.0,310.4 L80.0,311.0 L75.0,311.7 L70.0,312.4 L65.0,313.2 L60.0,314.0 L55.0,314.8 L50.0,315.6 L45.0,316.4 L40.0,317.2 L35.0,317.9 L30.0,318.7 L25.0,319.4 L20.0,320.0 L15.0,320.6 L10.0,321.2 L5.0,321.6 L0.0,322.0 L-5.0,322.0 L-10.0,322.0Z"/></clipPath><g clip-path="url(#cc)" fill="#ecebea"><path d="M28.6,26.4 L33.2,39.1 L46.7,39.5 L36.0,47.8 L39.8,60.8 L28.6,53.2 L17.4,60.8 L21.2,47.8 L10.5,39.5 L24.0,39.1Z"/><path d="M28.6,84.9 L33.2,97.6 L46.7,98.0 L36.0,106.3 L39.8,119.3 L28.6,111.7 L17.4,119.3 L21.2,106.3 L10.5,98.0 L24.0,97.6Z"/><path d="M28.6,143.4 L33.2,156.1 L46.7,156.5 L36.0,164.8 L39.8,177.8 L28.6,170.2 L17.4,177.8 L21.2,164.8 L10.5,156.5 L24.0,156.1Z"/><path d="M28.6,201.9 L33.2,214.6 L46.7,215.0 L36.0,223.3 L39.8,236.3 L28.6,228.7 L17.4,236.3 L21.2,223.3 L10.5,215.0 L24.0,214.6Z"/><path d="M28.6,260.4 L33.2,273.1 L46.7,273.5 L36.0,281.8 L39.8,294.8 L28.6,287.2 L17.4,294.8 L21.2,281.8 L10.5,273.5 L24.0,273.1Z"/><path d="M58.6,50.9 L63.2,63.6 L76.7,64.1 L66.0,72.3 L69.8,85.3 L58.6,77.7 L47.4,85.3 L51.2,72.3 L40.5,64.1 L54.0,63.6Z"/><path d="M58.6,109.4 L63.2,122.1 L76.7,122.6 L66.0,130.8 L69.8,143.8 L58.6,136.2 L47.4,143.8 L51.2,130.8 L40.5,122.6 L54.0,122.1Z"/><path d="M58.6,167.9 L63.2,180.6 L76.7,181.1 L66.0,189.3 L69.8,202.3 L58.6,194.7 L47.4,202.3 L51.2,189.3 L40.5,181.1 L54.0,180.6Z"/><path d="M58.6,226.4 L63.2,239.1 L76.7,239.6 L66.0,247.8 L69.8,260.8 L58.6,253.2 L47.4,260.8 L51.2,247.8 L40.5,239.6 L54.0,239.1Z"/><path d="M88.6,17.5 L93.2,30.2 L106.7,30.6 L96.0,38.9 L99.8,51.9 L88.6,44.3 L77.4,51.9 L81.2,38.9 L70.5,30.6 L84.0,30.2Z"/><path d="M88.6,76.0 L93.2,88.7 L106.7,89.1 L96.0,97.4 L99.8,110.4 L88.6,102.8 L77.4,110.4 L81.2,97.4 L70.5,89.1 L84.0,88.7Z"/><path d="M88.6,134.5 L93.2,147.2 L106.7,147.6 L96.0,155.9 L99.8,168.9 L88.6,161.3 L77.4,168.9 L81.2,155.9 L70.5,147.6 L84.0,147.2Z"/><path d="M88.6,193.0 L93.2,205.7 L106.7,206.1 L96.0,214.4 L99.8,227.4 L88.6,219.8 L77.4,227.4 L81.2,214.4 L70.5,206.1 L84.0,205.7Z"/><path d="M88.6,251.5 L93.2,264.2 L106.7,264.6 L96.0,272.9 L99.8,285.9 L88.6,278.3 L77.4,285.9 L81.2,272.9 L70.5,264.6 L84.0,264.2Z"/><path d="M118.6,44.8 L123.2,57.5 L136.7,57.9 L126.0,66.2 L129.8,79.2 L118.6,71.6 L107.4,79.2 L111.2,66.2 L100.5,57.9 L114.0,57.5Z"/><path d="M118.6,103.3 L123.2,116.0 L136.7,116.4 L126.0,124.7 L129.8,137.7 L118.6,130.1 L107.4,137.7 L111.2,124.7 L100.5,116.4 L114.0,116.0Z"/><path d="M118.6,161.8 L123.2,174.5 L136.7,174.9 L126.0,183.2 L129.8,196.2 L118.6,188.6 L107.4,196.2 L111.2,183.2 L100.5,174.9 L114.0,174.5Z"/><path d="M118.6,220.3 L123.2,233.0 L136.7,233.4 L126.0,241.7 L129.8,254.7 L118.6,247.1 L107.4,254.7 L111.2,241.7 L100.5,233.4 L114.0,233.0Z"/><path d="M148.6,15.1 L153.2,27.8 L166.7,28.2 L156.0,36.5 L159.8,49.4 L148.6,41.9 L137.4,49.4 L141.2,36.5 L130.5,28.2 L144.0,27.8Z"/><path d="M148.6,73.6 L153.2,86.3 L166.7,86.7 L156.0,95.0 L159.8,107.9 L148.6,100.4 L137.4,107.9 L141.2,95.0 L130.5,86.7 L144.0,86.3Z"/><path d="M148.6,132.1 L153.2,144.8 L166.7,145.2 L156.0,153.5 L159.8,166.4 L148.6,158.9 L137.4,166.4 L141.2,153.5 L130.5,145.2 L144.0,144.8Z"/><path d="M148.6,190.6 L153.2,203.3 L166.7,203.7 L156.0,212.0 L159.8,224.9 L148.6,217.4 L137.4,224.9 L141.2,212.0 L130.5,203.7 L144.0,203.3Z"/><path d="M148.6,249.1 L153.2,261.8 L166.7,262.2 L156.0,270.5 L159.8,283.4 L148.6,275.9 L137.4,283.4 L141.2,270.5 L130.5,262.2 L144.0,261.8Z"/><path d="M178.6,44.5 L183.2,57.2 L196.7,57.7 L186.0,66.0 L189.8,78.9 L178.6,71.3 L167.4,78.9 L171.2,66.0 L160.5,57.7 L174.0,57.2Z"/><path d="M178.6,103.0 L183.2,115.7 L196.7,116.2 L186.0,124.5 L189.8,137.4 L178.6,129.8 L167.4,137.4 L171.2,124.5 L160.5,116.2 L174.0,115.7Z"/><path d="M178.6,161.5 L183.2,174.2 L196.7,174.7 L186.0,183.0 L189.8,195.9 L178.6,188.3 L167.4,195.9 L171.2,183.0 L160.5,174.7 L174.0,174.2Z"/><path d="M178.6,220.0 L183.2,232.7 L196.7,233.2 L186.0,241.5 L189.8,254.4 L178.6,246.8 L167.4,254.4 L171.2,241.5 L160.5,233.2 L174.0,232.7Z"/><path d="M208.6,15.8 L213.2,28.5 L226.7,28.9 L216.0,37.2 L219.8,50.2 L208.6,42.6 L197.4,50.2 L201.2,37.2 L190.5,28.9 L204.0,28.5Z"/><path d="M208.6,74.3 L213.2,87.0 L226.7,87.4 L216.0,95.7 L219.8,108.7 L208.6,101.1 L197.4,108.7 L201.2,95.7 L190.5,87.4 L204.0,87.0Z"/><path d="M208.6,132.8 L213.2,145.5 L226.7,145.9 L216.0,154.2 L219.8,167.2 L208.6,159.6 L197.4,167.2 L201.2,154.2 L190.5,145.9 L204.0,145.5Z"/><path d="M208.6,191.3 L213.2,204.0 L226.7,204.4 L216.0,212.7 L219.8,225.7 L208.6,218.1 L197.4,225.7 L201.2,212.7 L190.5,204.4 L204.0,204.0Z"/><path d="M208.6,249.8 L213.2,262.5 L226.7,262.9 L216.0,271.2 L219.8,284.2 L208.6,276.6 L197.4,284.2 L201.2,271.2 L190.5,262.9 L204.0,262.5Z"/><path d="M238.6,46.1 L243.2,58.8 L256.7,59.2 L246.0,67.5 L249.8,80.5 L238.6,72.9 L227.4,80.5 L231.2,67.5 L220.5,59.2 L234.0,58.8Z"/><path d="M238.6,104.6 L243.2,117.3 L256.7,117.7 L246.0,126.0 L249.8,139.0 L238.6,131.4 L227.4,139.0 L231.2,126.0 L220.5,117.7 L234.0,117.3Z"/><path d="M238.6,163.1 L243.2,175.8 L256.7,176.2 L246.0,184.5 L249.8,197.5 L238.6,189.9 L227.4,197.5 L231.2,184.5 L220.5,176.2 L234.0,175.8Z"/><path d="M238.6,221.6 L243.2,234.3 L256.7,234.7 L246.0,243.0 L249.8,256.0 L238.6,248.4 L227.4,256.0 L231.2,243.0 L220.5,234.7 L234.0,234.3Z"/><path d="M268.6,18.2 L273.2,30.9 L286.7,31.4 L276.0,39.7 L279.8,52.6 L268.6,45.0 L257.4,52.6 L261.2,39.7 L250.5,31.4 L264.0,30.9Z"/><path d="M268.6,76.7 L273.2,89.4 L286.7,89.9 L276.0,98.2 L279.8,111.1 L268.6,103.5 L257.4,111.1 L261.2,98.2 L250.5,89.9 L264.0,89.4Z"/><path d="M268.6,135.2 L273.2,147.9 L286.7,148.4 L276.0,156.7 L279.8,169.6 L268.6,162.0 L257.4,169.6 L261.2,156.7 L250.5,148.4 L264.0,147.9Z"/><path d="M268.6,193.7 L273.2,206.4 L286.7,206.9 L276.0,215.2 L279.8,228.1 L268.6,220.5 L257.4,228.1 L261.2,215.2 L250.5,206.9 L264.0,206.4Z"/><path d="M268.6,252.2 L273.2,264.9 L286.7,265.4 L276.0,273.7 L279.8,286.6 L268.6,279.0 L257.4,286.6 L261.2,273.7 L250.5,265.4 L264.0,264.9Z"/><path d="M298.6,49.4 L303.2,62.1 L316.7,62.6 L306.0,70.8 L309.8,83.8 L298.6,76.2 L287.4,83.8 L291.2,70.8 L280.5,62.6 L294.0,62.1Z"/><path d="M298.6,107.9 L303.2,120.6 L316.7,121.1 L306.0,129.3 L309.8,142.3 L298.6,134.7 L287.4,142.3 L291.2,129.3 L280.5,121.1 L294.0,120.6Z"/><path d="M298.6,166.4 L303.2,179.1 L316.7,179.6 L306.0,187.8 L309.8,200.8 L298.6,193.2 L287.4,200.8 L291.2,187.8 L280.5,179.6 L294.0,179.1Z"/><path d="M298.6,224.9 L303.2,237.6 L316.7,238.1 L306.0,246.3 L309.8,259.3 L298.6,251.7 L287.4,259.3 L291.2,246.3 L280.5,238.1 L294.0,237.6Z"/><path d="M328.6,22.9 L333.2,35.6 L346.7,36.0 L336.0,44.3 L339.8,57.3 L328.6,49.7 L317.4,57.3 L321.2,44.3 L310.5,36.0 L324.0,35.6Z"/><path d="M328.6,81.4 L333.2,94.1 L346.7,94.5 L336.0,102.8 L339.8,115.8 L328.6,108.2 L317.4,115.8 L321.2,102.8 L310.5,94.5 L324.0,94.1Z"/><path d="M328.6,139.9 L333.2,152.6 L346.7,153.0 L336.0,161.3 L339.8,174.3 L328.6,166.7 L317.4,174.3 L321.2,161.3 L310.5,153.0 L324.0,152.6Z"/><path d="M328.6,198.4 L333.2,211.1 L346.7,211.5 L336.0,219.8 L339.8,232.8 L328.6,225.2 L317.4,232.8 L321.2,219.8 L310.5,211.5 L324.0,211.1Z"/><path d="M328.6,256.9 L333.2,269.6 L346.7,270.0 L336.0,278.3 L339.8,291.3 L328.6,283.7 L317.4,291.3 L321.2,278.3 L310.5,270.0 L324.0,269.6Z"/></g><circle cx="229.2" cy="337.5" r="112.5" fill="#cfcccb"/><path d="M229.2,337.5 L229.20,225.00 A112.5,112.5 0 1 1 152.19,419.51 Z" fill="#045a20"/><circle cx="648.5" cy="337" r="113" fill="#cfcccb"/><path d="M648.5,337 L752.97,293.94 A113,113 0 0 1 744.75,396.21 Z" fill="#045a20"/><g fill="none" stroke="#fff" stroke-width="1.9"><ellipse cx="301.9" cy="330.3" rx="4.6" ry="4.65"/><ellipse cx="316.9" cy="342.4" rx="4.55" ry="4.85"/><line x1="315.7" y1="325" x2="303.1" y2="347.8"/></g><g fill="none" stroke="#fff" stroke-width="1.5"><ellipse cx="741.15" cy="334.65" rx="3.3" ry="3.9"/><ellipse cx="752.2" cy="343.8" rx="3.35" ry="3.55"/><line x1="751.5" y1="330" x2="742.3" y2="347.8"/></g></svg>
<div class="t" style="left:37.2px;top:35.4px;font-size:32px;font-weight:bold;color:#08652a;transform:scaleX(0.904);letter-spacing:0px;-webkit-text-stroke-width:0.5px;">PUNISHING THE VICTIM</div>
<div class="t" style="left:38px;top:74.5px;font-size:25px;font-weight:normal;color:#111;transform:scaleX(0.959);letter-spacing:0px;-webkit-text-stroke-width:0.4px;">The majority of US service members who report being sexually assaulted</div>
<div class="t" style="left:38px;top:104.5px;font-size:25px;font-weight:normal;color:#111;transform:scaleX(0.983);letter-spacing:0px;-webkit-text-stroke-width:0.4px;">report some form of retaliation.</div>
<div class="t sh" style="left:92px;top:168.7px;font-size:20.5px;font-weight:bold;color:#111;transform:scaleX(0.915);letter-spacing:0px;">Of service member <span class="g">victims</span> who</div>
<div class="t sh" style="left:75px;top:194.4px;font-size:20.5px;font-weight:bold;color:#111;transform:scaleX(0.936);letter-spacing:0px;">reported sexual assault in FY 2014,</div>
<div class="t sh" style="left:525px;top:168.7px;font-size:20.5px;font-weight:bold;color:#111;transform:scaleX(0.914);letter-spacing:0px;">Of service member <span class="g">suspects</span></div>
<div class="t sh" style="left:546px;top:194.4px;font-size:20.5px;font-weight:bold;color:#111;transform:scaleX(0.945);letter-spacing:0px;">investigated in FY 2014,</div>
<div class="t" style="left:247px;top:314.5px;font-size:45px;font-weight:bold;color:#fff;transform:scaleX(0.92);letter-spacing:0px;">62</div>
<div class="t" style="left:691px;top:319px;font-size:40px;font-weight:bold;color:#fff;transform:scaleX(1.0);letter-spacing:0px;">15</div>
<div class="t sh" style="left:151px;top:468.7px;font-size:20px;font-weight:bold;color:#194a12;transform:scaleX(0.978);letter-spacing:0px;">faced retaliation.</div>
<div class="t sh" style="left:550px;top:468.8px;font-size:20px;font-weight:normal;color:#111;transform:scaleX(1.042);letter-spacing:0px;-webkit-text-stroke-width:0.5px;">were court-martialed.</div>
<div class="t" style="left:39px;top:543.8px;font-size:20px;font-weight:normal;color:#111;transform:scaleX(0.982);letter-spacing:0px;-webkit-text-stroke-width:0.3px;">Of the estimated <span class="g">18,900 sexual assaults</span> on service members in the US military in FY 2014,</div>
<div class="t" style="left:39px;top:568.2px;font-size:20px;font-weight:normal;color:#111;transform:scaleX(0.994);letter-spacing:0px;-webkit-text-stroke-width:0.3px;">only <span class="g">5,121</span> were <span class="g">reported</span>. A main reason service members do not report is fear of retaliation.</div>
<div class="t" style="left:38px;top:616.9px;font-size:16.4px;font-weight:normal;color:#9a9a9b;transform:scaleX(0.975);letter-spacing:0px;">Source: Department of Defense; Provisional Statistical Data on Sexual Assault FY 2014.</div>
</body></html>
